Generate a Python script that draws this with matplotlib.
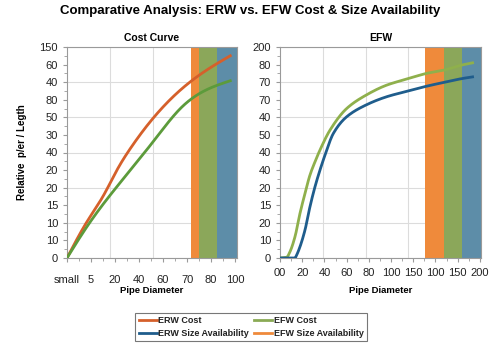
import matplotlib
matplotlib.use("Agg")
import matplotlib.pyplot as plt
import numpy as np
from matplotlib.ticker import MultipleLocator
from matplotlib.lines import Line2D

plt.rcParams['font.family'] = ['Liberation Sans', 'DejaVu Sans']

# ---- Data ----
# Left panel: Cost Curve (x on index scale 0..7, y on 0..120 scale)
left_xticklabels = ["small", "5", "20", "40", "60", "70", "80", "100"]
left_yticklabels = ["0", "10", "10", "15", "20", "20", "40", "30", "50", "80", "40", "60", "150"]
erw_cost_x = [0, 0.83, 1.53, 2.08, 2.6, 3.58, 4.72, 5.83, 6.8]
erw_cost_y = [0, 20.6, 35.8, 50, 61.5, 79.4, 95.5, 107, 115]
efw_cost_x = [0, 0.83, 1.8, 2.92, 3.75, 4.72, 5.83, 6.8]
efw_cost_y = [0, 17.8, 35.8, 54.7, 69, 85, 95.8, 100.8]
left_spans = [(5.17, 5.5), (5.5, 6.25), (6.25, 7.08)]
left_vgrid = [1.8, 3.58]

# Right panel: EFW (x on 0..180 scale, y on 0..120 scale)
right_xticklabels = ["00", "20", "40", "60", "80", "100", "150", "100", "150", "200"]
right_yticklabels = ["0", "10", "20", "15", "20", "40", "40", "50", "40", "70", "70", "80", "200"]
erw_size_x = [0, 13.5, 15, 18, 22.5, 27, 31.5, 36, 40.5, 48, 60, 77.4, 96, 115.5, 132, 148.5, 163.5, 173.4]
erw_size_y = [0, 0, 1.7, 6.4, 15.9, 29.2, 40.5, 50, 58.5, 70.8, 80.3, 87, 91.7, 95, 97.7, 100, 102, 103]
efw_size_x = [0, 6, 9, 13.5, 18, 22.5, 27, 31.5, 36, 45, 60, 77.4, 96, 115.5, 132, 148.5, 163.5, 173.4]
efw_size_y = [0, 0.4, 3.6, 12.1, 25.4, 36.7, 47.2, 54.7, 61.4, 72.7, 85, 92.6, 98.3, 102, 105, 107, 109.7, 111]
right_spans = [(131, 147.6), (147.6, 163.8), (163.8, 181)]
right_vgrid = [39, 77.4, 115.5]

span_colors = ["#ef8a3b", "#8ba75a", "#5d8da8"]
c_erw = "#d5602b"
c_efw_left = "#5c9b3b"
c_efw_right = "#8fb04c"
c_blue = "#1f5d8c"
c_legend_efw = "#8aaa55"

fig = plt.figure(figsize=(5, 3.5), dpi=100)
W, H = 500, 350
ax1 = fig.add_axes([67 / W, 1 - 258 / H, 170 / W, 211 / H])
ax2 = fig.add_axes([280 / W, 1 - 258 / H, 201 / W, 211 / H])


def pchip(x, y, n=300):
    x = np.asarray(x, float); y = np.asarray(y, float)
    h = np.diff(x); d = np.diff(y) / h
    m = np.zeros_like(y)
    for k in range(1, len(x) - 1):
        if d[k - 1] * d[k] <= 0:
            m[k] = 0
        else:
            w1 = 2 * h[k] + h[k - 1]; w2 = h[k] + 2 * h[k - 1]
            m[k] = (w1 + w2) / (w1 / d[k - 1] + w2 / d[k])
    m[0] = d[0]; m[-1] = d[-1]
    xs = np.linspace(x[0], x[-1], n)
    idx = np.clip(np.searchsorted(x, xs) - 1, 0, len(x) - 2)
    t = (xs - x[idx]) / h[idx]
    h00 = 2 * t**3 - 3 * t**2 + 1; h10 = t**3 - 2 * t**2 + t
    h01 = -2 * t**3 + 3 * t**2; h11 = t**3 - t**2
    ys = h00 * y[idx] + h10 * h[idx] * m[idx] + h01 * y[idx + 1] + h11 * h[idx] * m[idx + 1]
    return xs, ys


def natural_spline(x, y, n=300):
    x = np.asarray(x, float); y = np.asarray(y, float)
    N = len(x); h = np.diff(x)
    A = np.zeros((N, N)); r = np.zeros(N)
    A[0, 0] = A[-1, -1] = 1
    for i in range(1, N - 1):
        A[i, i - 1] = h[i - 1]; A[i, i] = 2 * (h[i - 1] + h[i]); A[i, i + 1] = h[i]
        r[i] = 3 * ((y[i + 1] - y[i]) / h[i] - (y[i] - y[i - 1]) / h[i - 1])
    c = np.linalg.solve(A, r)
    b = (y[1:] - y[:-1]) / h - h * (2 * c[:-1] + c[1:]) / 3
    dd = (c[1:] - c[:-1]) / (3 * h)
    xs = np.linspace(x[0], x[-1], n)
    idx = np.clip(np.searchsorted(x, xs) - 1, 0, N - 2)
    t = xs - x[idx]
    ys = y[idx] + b[idx] * t + c[idx] * t**2 + dd[idx] * t**3
    return xs, ys


grid_kw = dict(color="#dcdcdc", lw=0.8, zorder=0)

# Left panel
for (a, b), c in zip(left_spans, span_colors):
    ax1.axvspan(a, b, color=c, lw=0, zorder=1)
for yv in range(0, 121, 20):
    ax1.axhline(yv, **grid_kw)
for xv in left_vgrid:
    ax1.axvline(xv, **grid_kw)
ax1.plot(*natural_spline(erw_cost_x, erw_cost_y), color=c_erw, lw=2, zorder=3)
ax1.plot(*natural_spline(efw_cost_x, efw_cost_y), color=c_efw_left, lw=2, zorder=3)
ax1.set_xlim(0, 7.08)
ax1.set_ylim(0, 120)
ax1.set_xticks(range(len(left_xticklabels)))
ax1.set_xticklabels(left_xticklabels)
ax1.set_yticks(range(0, 121, 10))
ax1.set_yticklabels(left_yticklabels)
ax1.xaxis.set_minor_locator(MultipleLocator(0.5))
ax1.yaxis.set_minor_locator(MultipleLocator(5))
ax1.tick_params(axis='x', which='major', pad=9)
ax1.set_title("Cost Curve", fontsize=7.5, fontweight='bold', pad=4)
ax1.set_xlabel("Pipe Diameter", fontsize=6.8, fontweight='bold', labelpad=1)
ax1.set_ylabel("Relative  p/er / Legth", fontsize=7, fontweight='bold', labelpad=9)

# Right panel
for (a, b), c in zip(right_spans, span_colors):
    ax2.axvspan(a, b, color=c, lw=0, zorder=1)
for yv in range(0, 121, 20):
    ax2.axhline(yv, **grid_kw)
for xv in right_vgrid:
    ax2.axvline(xv, **grid_kw)
ax2.plot(*pchip(efw_size_x, efw_size_y), color=c_efw_right, lw=2, zorder=3)
ax2.plot(*pchip(erw_size_x, erw_size_y), color=c_blue, lw=2, zorder=3)
ax2.set_xlim(0, 181)
ax2.set_ylim(0, 120)
ax2.set_xticks(range(0, 181, 20))
ax2.set_xticklabels(right_xticklabels)
ax2.set_yticks(range(0, 121, 10))
ax2.set_yticklabels(right_yticklabels)
ax2.xaxis.set_minor_locator(MultipleLocator(10))
ax2.yaxis.set_minor_locator(MultipleLocator(5))
ax2.tick_params(axis='x', which='major', pad=4)
ax2.set_title("EFW", fontsize=7.5, fontweight='bold', pad=4)
ax2.set_xlabel("Pipe Diameter", fontsize=6.8, fontweight='bold', labelpad=6)

for ax in (ax1, ax2):
    for s in ax.spines.values():
        s.set_color("#9a9a9a")
        s.set_linewidth(0.8)
    ax.tick_params(which='both', colors="#9a9a9a", labelcolor="#222222", labelsize=8)
    ax.tick_params(which='major', length=3)
    ax.tick_params(which='minor', length=2)

fig.suptitle("Comparative Analysis: ERW vs. EFW Cost & Size Availability",
             fontsize=9.5, fontweight='bold', y=0.985)

handles = [
    Line2D([], [], color=c_erw, lw=2, label="ERW Cost"),
    Line2D([], [], color=c_blue, lw=2, label="ERW Size Availability"),
    Line2D([], [], color=c_legend_efw, lw=2, label="EFW Cost"),
    Line2D([], [], color=span_colors[0], lw=2, label="EFW Size Availability"),
]
leg = fig.legend(handles=handles, ncol=2, loc='center', bbox_to_anchor=(251 / W, 1 - 327 / H),
                 fontsize=6.5, frameon=True, fancybox=False, edgecolor="#555555",
                 handlelength=2.0, handletextpad=0.2, columnspacing=0.5, labelspacing=0.4,
                 borderpad=0.35)
leg.get_frame().set_linewidth(0.8)
for t in leg.get_texts():
    t.set_fontweight('bold')
    t.set_color("#222222")

fig.savefig("out.png", dpi=100, facecolor="white")
